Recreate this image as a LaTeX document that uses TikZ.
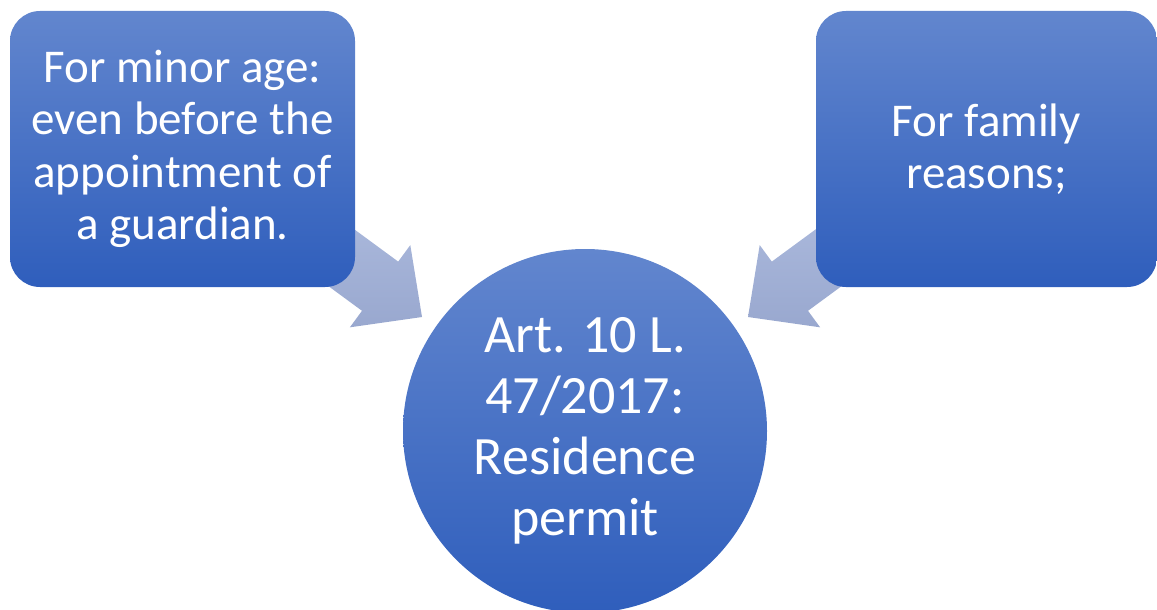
\documentclass[tikz,border=0pt]{standalone}
\usepackage{fontspec}
\setmainfont{Carlito}
\definecolor{boxtop}{HTML}{6286CE}
\definecolor{boxbot}{HTML}{2F5EBC}
\definecolor{arrtop}{HTML}{ACBADD}
\definecolor{arrbot}{HTML}{99A8CF}
\begin{document}
\begin{tikzpicture}[x=1pt,y=-1pt,
  bluebox/.style={rectangle, rounded corners=30pt, shade, top color=boxtop, bottom color=boxbot,
    draw=none, text=white, align=center, inner sep=0pt,
    font=\fontsize{47}{52.5}\selectfont},
  bluecircle/.style={circle, shade, top color=boxtop, bottom color=boxbot, draw=none,
    text=white, align=center, inner sep=0pt, minimum size=364pt,
    font=\fontsize{54}{61}\selectfont},
  blockarrow/.style={shade, top color=arrtop, bottom color=arrbot, draw=none}]
\useasboundingbox (0,0) rectangle (1157,610);
\clip (0,0) rectangle (1157,610);
% arrows (behind)
\path[blockarrow] (317.6,202.4) -- (398.2,261.6) -- (410.3,245.1) -- (422,317)
   -- (349.9,327.3) -- (362,310.8) -- (281.4,251.6) -- cycle;
\path[blockarrow] (852.4,202.4) -- (771.8,261.6) -- (759.7,245.1) -- (748,317)
   -- (820.1,327.3) -- (808,310.8) -- (888.6,251.6) -- cycle;
% nodes
\node[bluebox, minimum width=345pt, minimum height=276pt] (minor) at (182.5,149)
  {For minor age:\\even before the\\appointment of\\a guardian.};
\node[bluebox, minimum width=341pt, minimum height=276pt] (family) at (986.5,149)
  {For family\\reasons;};
\node[bluecircle] (permit) at (585,431)
  {Art. 10 L.\\47/2017:\\Residence\\permit};
\end{tikzpicture}
\end{document}
